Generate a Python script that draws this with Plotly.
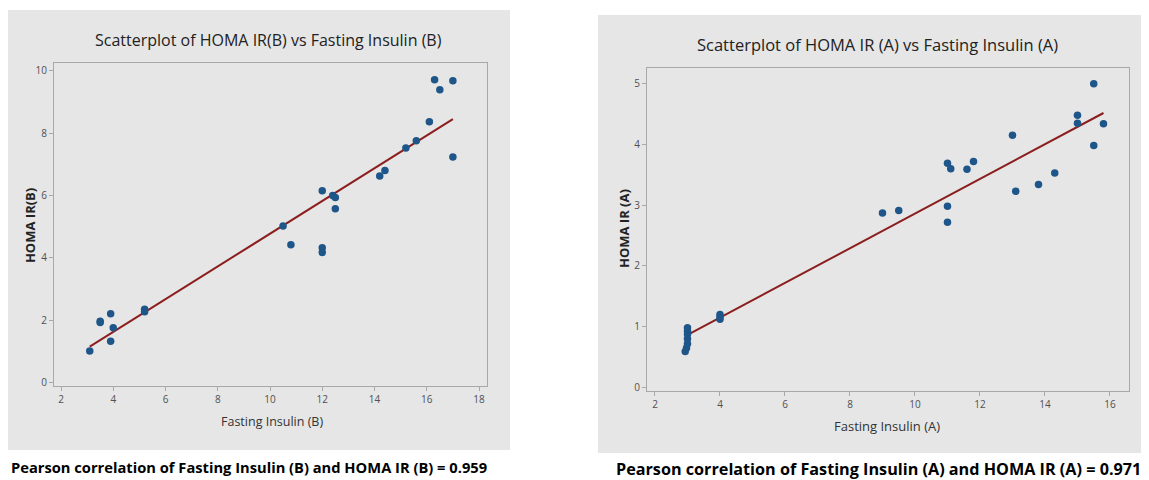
import numpy as np
import plotly.graph_objects as go

# ---- data ----
insulin_B = [3.1, 3.5, 3.5, 3.9, 4.0, 3.9, 5.2, 5.2, 10.5, 10.8, 12.0, 12.0, 12.0,
             12.4, 12.5, 12.5, 14.2, 14.4, 15.2, 15.6, 16.1, 16.3, 16.5, 17.0, 17.0]
homa_B = [1.01, 1.96, 1.92, 2.20, 1.75, 1.32, 2.35, 2.27, 5.02, 4.42, 6.15, 4.32, 4.17,
          6.00, 5.93, 5.57, 6.62, 6.80, 7.52, 7.75, 8.36, 9.71, 9.39, 9.68, 7.23]

insulin_A = [2.93, 2.97, 3.0, 3.0, 3.0, 3.0, 3.0, 4.0, 4.0, 4.0, 9.0, 9.5, 11.0, 11.0,
             11.0, 11.1, 11.6, 11.8, 13.0, 13.1, 13.8, 14.3, 15.0, 15.0, 15.5, 15.5, 15.8]
homa_A = [0.59, 0.65, 0.72, 0.80, 0.88, 0.93, 0.98, 1.12, 1.16, 1.20, 2.87, 2.91, 2.98, 2.72,
          3.69, 3.60, 3.59, 3.72, 4.15, 3.23, 3.34, 3.53, 4.48, 4.35, 5.00, 3.98, 4.34]

title_B = "Scatterplot of HOMA IR(B) vs Fasting Insulin (B)"
title_A = "Scatterplot of HOMA IR (A) vs Fasting Insulin (A)"
xlabel_B, ylabel_B = "Fasting Insulin (B)", "HOMA IR(B)"
xlabel_A, ylabel_A = "Fasting Insulin (A)", "HOMA IR (A)"
pearson_B = "Pearson correlation of Fasting Insulin (B) and HOMA IR (B) = 0.959"
pearson_A = "Pearson correlation of Fasting Insulin (A) and HOMA IR (A) = 0.971"

# page is 1149x480; the html body adds an 8px margin, so the figure is sized to fit
OFF = 8
W, H = 1149 - OFF, 480 - OFF
MARKER = "#1F5689"
FIT = "#8B1E1E"
PANEL = "#E6E6E6"
FONT = "Open Sans"


def px(x):
    return (x - OFF) / W


def py(y):
    return 1 - (y - OFF) / H


def fit_line(x, y):
    x = np.asarray(x, float)
    y = np.asarray(y, float)
    b, a = np.polyfit(x, y, 1)
    xs = np.array([x.min(), x.max()])
    return xs, a + b * xs


fig = go.Figure()

fxB, fyB = fit_line(insulin_B, homa_B)
fxA, fyA = fit_line(insulin_A, homa_A)

fig.add_trace(go.Scatter(x=fxB, y=fyB, mode="lines", line=dict(color=FIT, width=2),
                         xaxis="x", yaxis="y", showlegend=False))
fig.add_trace(go.Scatter(x=insulin_B, y=homa_B, mode="markers",
                         marker=dict(color=MARKER, size=7.5), xaxis="x", yaxis="y",
                         showlegend=False))
fig.add_trace(go.Scatter(x=fxA, y=fyA, mode="lines", line=dict(color=FIT, width=2),
                         xaxis="x2", yaxis="y2", showlegend=False))
fig.add_trace(go.Scatter(x=insulin_A, y=homa_A, mode="markers",
                         marker=dict(color=MARKER, size=7.5), xaxis="x2", yaxis="y2",
                         showlegend=False))

axis_common = dict(showgrid=False, zeroline=False, showline=True, mirror=True,
                   linecolor="#A8A8A8", linewidth=1, ticks="outside", ticklen=4,
                   tickcolor="#A8A8A8", tickfont=dict(family=FONT, size=10, color="#505050"))

fig.update_layout(
    width=W, height=H,
    margin=dict(l=0, r=0, t=0, b=0),
    paper_bgcolor="white", plot_bgcolor="white",
    showlegend=False,
    xaxis=dict(domain=[px(54), px(487)], range=[1.732, 18.306], tickvals=list(range(2, 19, 2)),
               anchor="y", **axis_common),
    yaxis=dict(domain=[py(388), py(63)], range=[-0.128, 10.256], tickvals=list(range(0, 11, 2)),
               anchor="x", **axis_common),
    xaxis2=dict(domain=[px(647), px(1129)], range=[1.754, 16.585], tickvals=list(range(2, 17, 2)),
                anchor="y2", **axis_common),
    yaxis2=dict(domain=[py(393), py(68)], range=[-0.066, 5.262], tickvals=list(range(0, 6)),
                anchor="x2", **axis_common),
    shapes=[
        dict(type="rect", xref="paper", yref="paper", x0=px(8), x1=px(510), y0=py(452), y1=py(10),
             fillcolor=PANEL, line=dict(width=0), layer="below"),
        dict(type="rect", xref="paper", yref="paper", x0=px(598), x1=px(1149), y0=py(455), y1=py(15),
             fillcolor=PANEL, line=dict(width=0), layer="below"),
    ],
)

ann = []
# titles
ann.append(dict(text=title_B, x=px(268), y=py(40), xref="paper", yref="paper", showarrow=False,
                xanchor="center", yanchor="middle", font=dict(family=FONT, size=16, color="#222")))
ann.append(dict(text=title_A, x=px(877), y=py(45), xref="paper", yref="paper", showarrow=False,
                xanchor="center", yanchor="middle", font=dict(family=FONT, size=16.5, color="#222")))
# x labels
ann.append(dict(text=xlabel_B, x=px(272), y=py(423), xref="paper", yref="paper", showarrow=False,
                xanchor="center", yanchor="middle", font=dict(family=FONT, size=12.5, color="#333")))
ann.append(dict(text=xlabel_A, x=px(887), y=py(428), xref="paper", yref="paper", showarrow=False,
                xanchor="center", yanchor="middle", font=dict(family=FONT, size=13, color="#333")))
# y labels
ann.append(dict(text="<b>" + ylabel_B + "</b>", x=px(30), y=py(227), xref="paper", yref="paper",
                showarrow=False, textangle=-90, xanchor="center", yanchor="middle",
                font=dict(family=FONT, size=13, color="#222")))
ann.append(dict(text="<b>" + ylabel_A + "</b>", x=px(624), y=py(230), xref="paper", yref="paper",
                showarrow=False, textangle=-90, xanchor="center", yanchor="middle",
                font=dict(family=FONT, size=13, color="#222")))
# pearson
ann.append(dict(text="<b>" + pearson_B + "</b>", x=px(9), y=py(469), xref="paper", yref="paper",
                showarrow=False, xanchor="left", yanchor="middle",
                font=dict(family=FONT, size=14.7, color="black")))
ann.append(dict(text="<b>" + pearson_A + "</b>", x=px(614), y=py(471), xref="paper", yref="paper",
                showarrow=False, xanchor="left", yanchor="middle",
                font=dict(family=FONT, size=16.2, color="black")))
fig.update_layout(annotations=ann)

fig.write_html("out.html")
